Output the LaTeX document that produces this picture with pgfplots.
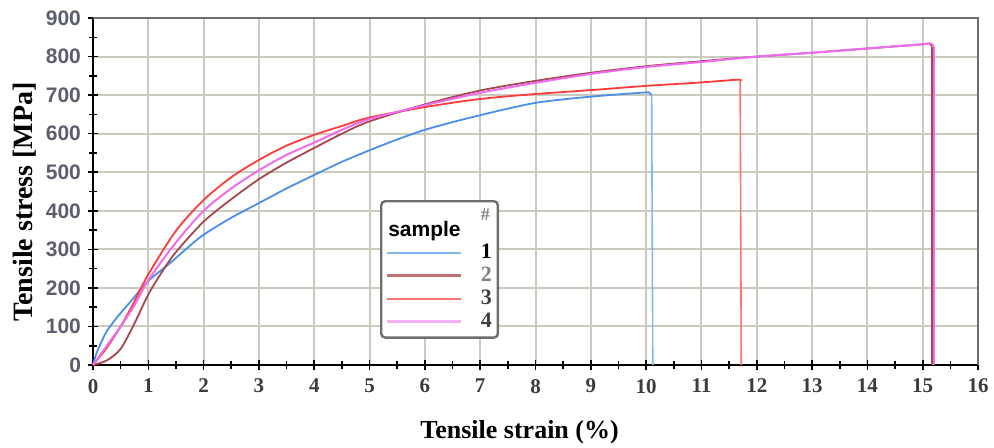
\documentclass[border=0pt]{standalone}
\usepackage{fontspec}
\setmainfont{Liberation Serif}
\newfontfamily\sansb{Liberation Sans}
\usepackage{pgfplots}
\pgfplotsset{compat=1.18}

\definecolor{gridc}{HTML}{CACABE}
\definecolor{frame}{HTML}{6E6E6E}
\definecolor{c1}{HTML}{4A90E8}
\definecolor{c2}{HTML}{A5474F}
\definecolor{c3}{HTML}{FF3A3A}
\definecolor{c4}{HTML}{EE6CEE}
\definecolor{l1}{HTML}{80B8F0}
\definecolor{l2}{HTML}{C07272}
\definecolor{l3}{HTML}{FF7272}
\definecolor{l4}{HTML}{F8B0F2}
\definecolor{ytl}{HTML}{5C5E6E}
\definecolor{xtl}{HTML}{3C3C3C}

\begin{document}
\begin{tikzpicture}
\path[use as bounding box] (-46.5pt,-41pt) rectangle (450.5pt,182.5pt);
\begin{axis}[
    at={(0pt,0pt)}, anchor=south west,
    scale only axis, width=442.5pt, height=173.5pt,
    xmin=0, xmax=16, ymin=0, ymax=900,
    xtick={0,1,...,16}, ytick={0,100,...,900},
    minor x tick num=1, minor y tick num=1,
    axis x line*=bottom, axis y line*=left,
    axis line style={-, black, line width=1pt},
    tick align=center,
    major tick length=5pt, minor tick length=4pt,
    every tick/.style={black, line width=0.8pt},
    grid=major,
    major grid style={gridc, line width=1pt},
    clip=false,
    /pgf/number format/assume math mode=true,
    x tick label style={font=\fontsize{10.5}{12}\selectfont\bfseries, text=xtl, yshift=-1pt},
    y tick label style={font=\sansb\fontsize{10.5}{12}\selectfont\bfseries, text=ytl},
    xlabel={Tensile strain (\%)},
    ylabel={Tensile stress [MPa]},
    xlabel style={font=\fontsize{13}{15}\selectfont\bfseries, at={(axis description cs:0.482,-0.193)}, anchor=center},
    ylabel style={font=\fontsize{14}{16}\selectfont\bfseries, at={(axis description cs:-0.077,0.47)}, anchor=center},
    legend style={at={(axis cs:5.19,428)}, anchor=north west,
        draw=frame, line width=1.2pt, rounded corners=2pt, fill=white,
        font=\fontsize{11}{12}\selectfont\bfseries,
        inner xsep=2pt, inner ysep=3pt, row sep=1.5pt,
        nodes={inner sep=1pt, text height=7pt, text depth=1pt},
        cells={anchor=west}},
    legend image code/.code={\draw[#1] (0pt,0pt) -- (37pt,0pt); \path (45pt,0pt);},
]
% sample 1
\addplot[c1, line width=0.9pt, smooth, tension=0.5, forget plot] coordinates {
(0,0) (0.05,25) (0.12,50) (0.25,88) (0.4,117) (0.5,135) (0.67,163) (1,218)
(1.39,264) (1.7,303) (2,338) (2.5,382) (3,420) (3.5,458) (4,493) (4.5,527)
(5,557) (5.5,585) (6,610) (6.5,630) (7,648) (7.5,665) (8,680) (8.5,689)
(9,696) (9.5,702) (10,707) (10.06,706) (10.1,700)
};
\addplot[l1, line width=0.8pt, forget plot] coordinates {(10.1,700) (10.12,0)};
% sample 2
\addplot[c2, line width=0.9pt, smooth, tension=0.5, forget plot] coordinates {
(0,0) (0.25,12) (0.5,42) (0.75,108) (1,183) (1.25,242) (1.5,293) (2,372)
(2.5,430) (3,482) (3.5,525) (4,563) (4.5,600) (5,632) (6,676) (7,712)
(8,737) (9,758) (10,775) (11,788) (12,800) (13,810) (14,821) (15,832)
(15.12,834) (15.17,826)
};
\addplot[c2, line width=0.9pt, forget plot] coordinates {(15.17,826) (15.17,0)};
% sample 3
\addplot[c3, line width=0.9pt, smooth, tension=0.5, forget plot] coordinates {
(0,0) (0.25,45) (0.5,100) (0.75,165) (1,235) (1.5,348) (2,428) (2.5,487)
(3,532) (3.5,569) (4,597) (4.5,620) (5,642) (6,669) (7,690) (8,703)
(9,713) (10,724) (11,733) (11.65,740) (11.7,737)
};
\addplot[l3, line width=0.8pt, forget plot] coordinates {(11.7,737) (11.72,0)};
% sample 4
\addplot[c4, line width=1pt, smooth, tension=0.5, forget plot] coordinates {
(0,0) (0.25,50) (0.5,100) (0.75,155) (1,220) (1.5,318) (2,400) (2.5,458)
(3,505) (3.5,545) (4,577) (4.5,610) (5,638) (6,674) (7,706) (8,732)
(9,755) (10,773) (11,786) (12,800) (13,810) (14,821) (15,832)
(15.15,834) (15.2,826)
};
\addplot[c4, line width=1pt, forget plot] coordinates {(15.2,826) (15.2,0)};
\draw[frame, line width=1.2pt] (rel axis cs:0,1) -- (rel axis cs:1,1) -- (rel axis cs:1,0);
\addlegendimage{legend image code/.code={\node[anchor=west, inner sep=0pt, text=black, font=\sansb\fontsize{10.5}{12}\selectfont\bfseries] at (0pt,-1pt) {sample}; \path (45pt,10pt) (45pt,-5pt);}}
\addlegendentry{\raisebox{7pt}{\textcolor{gray}{\small\#}}}
\addlegendimage{l1, line width=1pt}
\addlegendentry{1}
\addlegendimage{l2, line width=1.2pt}
\addlegendentry{\textcolor{gray}{2}}
\addlegendimage{l3, line width=1pt}
\addlegendentry{\textcolor{darkgray}{3}}
\addlegendimage{l4, line width=1.8pt}
\addlegendentry{\textcolor{darkgray}{4}}
\end{axis}
\end{tikzpicture}
\end{document}
